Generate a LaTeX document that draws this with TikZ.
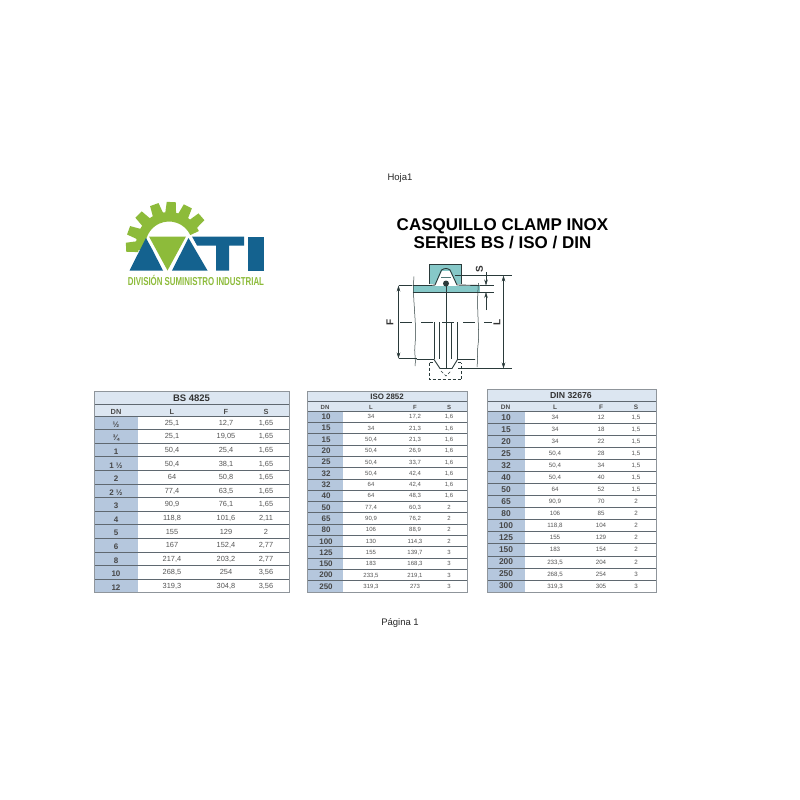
\documentclass[tikz,border=0pt]{standalone}
\usepackage{fontspec}
\setmainfont{Liberation Sans}
\usetikzlibrary{arrows.meta}
\definecolor{gearGreen}{HTML}{8DBB3A}
\definecolor{logoBlue}{HTML}{14628F}
\definecolor{clampTeal}{HTML}{86C8C8}
\definecolor{dnBlue}{HTML}{B5C7DD}
\definecolor{headBlue}{HTML}{DCE6F1}
\definecolor{ruleGrey}{HTML}{5F6870}
\definecolor{valGrey}{HTML}{555555}
\definecolor{partGrey}{HTML}{2A3A3A}
\tikzset{
  pagetext/.style={font=\fontsize{9.5}{11}\selectfont, text=black!85, anchor=base},
  titletext/.style={font=\fontsize{17}{19}\selectfont\bfseries, anchor=base},
  tabletitle/.style={font=\fontsize{#1}{10}\selectfont\bfseries, text=black!80, anchor=base},
  headtext/.style={font=\fontsize{#1}{8}\selectfont\bfseries, text=black!70, anchor=base},
  dncell/.style={font=\fontsize{#1}{9}\selectfont\bfseries, text=black!72, anchor=base},
  valcell/.style={font=\fontsize{#1}{8}\selectfont, text=valGrey, anchor=base},
  partline/.style={draw=partGrey, line width=0.5pt},
  dimline/.style={draw=partGrey, line width=0.45pt},
  dimarrow/.style={dimline, {Stealth[length=6pt,width=3.5pt]}-{Stealth[length=6pt,width=3.5pt]}},
  dimlabel/.style={font=\fontsize{10}{11}\selectfont\bfseries, rotate=90, text=black!80},
}
\begin{document}
\begin{tikzpicture}[x=1pt,y=-1pt]
  \useasboundingbox (0,0) rectangle (800,800);

  \node[pagetext] (hoja) at (400,180.5) {Hoja1};
  \node[pagetext] (pagina) at (400,625) {Página 1};
  \node[titletext] (titleone) at (502.5,230) {CASQUILLO CLAMP INOX};
  \node[titletext] (titletwo) at (502.5,248) {SERIES BS / ISO / DIN};

  % logo gear
  \coordinate (gearcentre) at (169,245);
  \begin{scope}[shift={(gearcentre)},x=1pt,y=1pt]
    \clip (-50,-12) rectangle (50,50);
    \fill[gearGreen] (190:33) arc[start angle=190, end angle=25, radius=33pt]
      -- (25:23.5) arc[start angle=25, end angle=190, radius=23.5pt] -- cycle;
    \foreach \ang in {41,64,87,110,135,160,183} {
      \fill[gearGreen, rotate=\ang] (31,-5.5) -- (43,-4.5) -- (43,4.5) -- (31,5.5) -- cycle;
    }
  \end{scope}
  % logo letters
  \fill[gearGreen] (149,236.5) -- (186,236.5) -- (167.5,270.5) -- cycle;
  \fill[logoBlue] (129.5,270.5) -- (146,238) -- (152,249) -- (163,270.5) -- cycle;
  \fill[logoBlue] (172,270.5) -- (188.5,238) -- (207.5,270.5) -- cycle;
  \fill[logoBlue] (192,236.5) -- (244,236.5) -- (244,245.5) -- (229,245.5) -- (229,270.5) -- (216,270.5) -- (216,245.5) -- (197,245.5) -- cycle;
  \fill[logoBlue] (248,236.5) rectangle (264,270.5);
  \node[font=\fontsize{11.5}{12}\selectfont\bfseries, text=gearGreen, xscale=0.685, transform shape] (logotext) at (196,280.5) {DIVISIÓN SUMINISTRO INDUSTRIAL};

  % clamp drawing
  \fill[clampTeal] (429.5,264.5) rectangle (461.5,284);
  \fill[clampTeal] (412.5,285.5) rectangle (479.5,292);
  \fill[white] (435,285) -- (442,271) -- (450,271) -- (457,285) -- cycle;
  \draw[partline] (429.5,284) -- (429.5,264.5) -- (461.5,264.5) -- (461.5,284);
  \draw[partline, line width=0.9pt] (412.5,285.5) -- (430,285.5) -- (435,285) -- (441.5,270) .. controls (445,268) and (447,268) .. (450,270) -- (457,285) -- (479.5,285.5);
  \draw[partline] (412.5,292) -- (479.5,292);
  \draw[partline, clampTeal!60!black] (441,277) -- (451,277);
  \draw[partline] (414,276.5) .. controls (412,300) and (417,320) .. (415,345) .. controls (414,352) and (416,358) .. (415,366);
  \draw[partline] (478.5,283) .. controls (476,310) and (480,330) .. (478,345) .. controls (477,352) and (478,360) .. (477,367);
  \draw[partline, line width=0.9pt] (416.5,359.5) -- (434,359.5) -- (440,368.5) -- (452,368.5) -- (457.5,359.5) -- (475,359.5);
  \foreach \xa in {434,439.5,451.7,457.3} {
    \draw[partline] (\xa,322) -- (\xa,359);
  }
  \fill[partGrey] (446,283.5) circle (3pt);
  \draw[partline, line width=0.9pt] (446,283.5) -- (446,368.5);
  \draw[partline, dash pattern=on 12pt off 9pt] (400,322.5) -- (492,322.5);
  \draw[partline, densely dashed] (429.5,362.5) -- (429.5,379.5) -- (461.5,379.5) -- (461.5,362.5);
  \draw[partline, densely dashed] (429.5,362.5) -- (434,362.5) (457.5,362.5) -- (461.5,362.5);
  \draw[partline, densely dashed] (441,371) -- (446,376) -- (451,371);
  % dimensions
  \coordinate (ftop) at (398.5,285.5);
  \coordinate (fbot) at (398.5,358.5);
  \coordinate (ltop) at (503.5,275.5);
  \coordinate (lbot) at (503.5,368.5);
  \draw[dimarrow] (ftop) -- (fbot);
  \draw[dimarrow] (ltop) -- (lbot);
  \draw[dimline] (ftop) -- (412,285.5);
  \draw[dimline] (fbot) -- (416.5,358.5);
  \draw[dimline] (455,275.5) -- (512,275.5);
  \draw[dimline] (458,368.5) -- (512,368.5);
  \draw[dimline] (479.5,285.5) -- (494,285.5);
  \draw[dimline] (479.5,292) -- (494,292);
  \draw[dimline, -{Stealth[length=6pt,width=3.5pt]}] (486,272) -- (486,285.5);
  \draw[dimline, -{Stealth[length=6pt,width=3.5pt]}] (486,310) -- (486,292);
  \node[dimlabel] (flabel) at (390,322.5) {F};
  \node[dimlabel] (llabel) at (497,322) {L};
  \node[dimlabel] (slabel) at (479.5,269.5) {S};

  % table BS 4825
  \fill[headBlue] (94,391.5) rectangle (289,416);
  \fill[dnBlue] (94,416) rectangle (138,592.5);
  \node[tabletitle=9.5] (bstitle) at (191.5,401.7) {BS 4825};
  \node[headtext=7.4] (bsdn) at (116,414.2) {DN};
  \node[headtext=7.4] (bsl) at (172,414.2) {L};
  \node[headtext=7.4] (bsf) at (226,414.2) {F};
  \node[headtext=7.4] (bss) at (266,414.2) {S};
  \draw[ruleGrey, line width=0.6pt] (94,404.5) -- (289,404.5);
  \foreach \dn/\vl/\vf/\vs [count=\i] in {½/{25,1}/{12,7}/{1,65},¾/{25,1}/{19,05}/{1,65},1/{50,4}/{25,4}/{1,65},1 ½/{50,4}/{38,1}/{1,65},2/64/{50,8}/{1,65},2 ½/{77,4}/{63,5}/{1,65},3/{90,9}/{76,1}/{1,65},4/{118,8}/{101,6}/{2,11},5/155/129/2,6/167/{152,4}/{2,77},8/{217,4}/{203,2}/{2,77},10/{268,5}/254/{3,56},12/{319,3}/{304,8}/{3,56}} {
    \pgfmathsetmacro{\ya}{416+(\i-1)*13.58}
    \pgfmathsetmacro{\yb}{\ya+6.8}
    \draw[ruleGrey, line width=0.6pt] (94,\ya) -- (289,\ya);
    \node[dncell=8] (bsdn\i) at (116,\yb+4.5) {\dn};
    \node[valcell=7.4] (bsl\i) at (172,\yb+2.6) {\vl};
    \node[valcell=7.4] (bsf\i) at (226,\yb+2.6) {\vf};
    \node[valcell=7.4] (bss\i) at (266,\yb+2.6) {\vs};
  }
  \draw[ruleGrey!70, line width=0.6pt] (94,391.5) rectangle (289,592.5);

  % table ISO 2852
  \fill[headBlue] (307,391) rectangle (467,411);
  \fill[dnBlue] (307,411) rectangle (343,592);
  \node[tabletitle=7.9] (isotitle) at (387,399.2) {ISO 2852};
  \node[headtext=6] (isodn) at (325,409.2) {DN};
  \node[headtext=6] (isol) at (371,409.2) {L};
  \node[headtext=6] (isof) at (415,409.2) {F};
  \node[headtext=6] (isos) at (449,409.2) {S};
  \draw[ruleGrey, line width=0.6pt] (307,401) -- (467,401);
  \foreach \dn/\vl/\vf/\vs [count=\i] in {10/34/{17,2}/{1,6},15/34/{21,3}/{1,6},15/{50,4}/{21,3}/{1,6},20/{50,4}/{26,9}/{1,6},25/{50,4}/{33,7}/{1,6},32/{50,4}/{42,4}/{1,6},32/64/{42,4}/{1,6},40/64/{48,3}/{1,6},50/{77,4}/{60,3}/2,65/{90,9}/{76,2}/2,80/106/{88,9}/2,100/130/{114,3}/2,125/155/{139,7}/3,150/183/{168,3}/3,200/{233,5}/{219,1}/3,250/{319,3}/273/3} {
    \pgfmathsetmacro{\ya}{411+(\i-1)*11.31}
    \pgfmathsetmacro{\yb}{\ya+5.7}
    \draw[ruleGrey, line width=0.6pt] (307,\ya) -- (467,\ya);
    \node[dncell=8] (isodn\i) at (326,\yb+2.9) {\dn};
    \node[valcell=6] (isol\i) at (371,\yb+2.1) {\vl};
    \node[valcell=6] (isof\i) at (415,\yb+2.1) {\vf};
    \node[valcell=6] (isos\i) at (449,\yb+2.1) {\vs};
  }
  \draw[ruleGrey!70, line width=0.6pt] (307,391) rectangle (467,592);

  % table DIN 32676
  \fill[headBlue] (487,389.5) rectangle (656,411);
  \fill[dnBlue] (487,411) rectangle (525,592);
  \node[tabletitle=8.7] (dintitle) at (571,398) {DIN 32676};
  \node[headtext=6.5] (dindn) at (505.5,409.2) {DN};
  \node[headtext=6.5] (dinl) at (555,409.2) {L};
  \node[headtext=6.5] (dinf) at (601,409.2) {F};
  \node[headtext=6.5] (dins) at (636,409.2) {S};
  \draw[ruleGrey, line width=0.6pt] (487,401) -- (656,401);
  \foreach \dn/\vl/\vf/\vs [count=\i] in {10/34/12/{1,5},15/34/18/{1,5},20/34/22/{1,5},25/{50,4}/28/{1,5},32/{50,4}/34/{1,5},40/{50,4}/40/{1,5},50/64/52/{1,5},65/{90,9}/70/2,80/106/85/2,100/{118,8}/104/2,125/155/129/2,150/183/154/2,200/{233,5}/204/2,250/{268,5}/254/3,300/{319,3}/305/3} {
    \pgfmathsetmacro{\ya}{411+(\i-1)*12.07}
    \pgfmathsetmacro{\yb}{\ya+6}
    \draw[ruleGrey, line width=0.6pt] (487,\ya) -- (656,\ya);
    \node[dncell=8.4] (dindn\i) at (506,\yb+3) {\dn};
    \node[valcell=6.2] (dinl\i) at (555,\yb+2.2) {\vl};
    \node[valcell=6.2] (dinf\i) at (601,\yb+2.2) {\vf};
    \node[valcell=6.2] (dins\i) at (636,\yb+2.2) {\vs};
  }
  \draw[ruleGrey!70, line width=0.6pt] (487,389.5) rectangle (656,592);
\end{tikzpicture}
\end{document}
